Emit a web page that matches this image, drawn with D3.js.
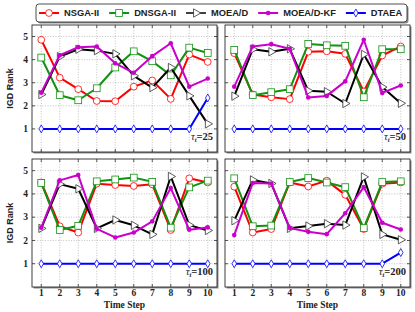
<!DOCTYPE html>
<html>
<head>
<meta charset="utf-8">
<script src="https://cdn.jsdelivr.net/npm/d3@7"></script>
<style>
    body { margin: 0; background: #fff; }
    svg { display: block; }
    .grid line { stroke: #999; stroke-width: 0.6; stroke-dasharray: 1,1.6; }
    .tick-label { font-family: "Liberation Serif", serif; font-weight: bold; font-size: 9.5px; fill: #222; }
    .title { font-family: "Liberation Sans", Arial, sans-serif; font-weight: bold; font-size: 9px; fill: #222; }
    .legend text { font-family: "Liberation Sans", Arial, sans-serif; font-weight: bold; font-size: 9.3px; fill: #222; }
</style>
</head>
<body>
<svg id="chart" width="415" height="312"></svg>
<script>
// Data
const steps = [1, 2, 3, 4, 5, 6, 7, 8, 9, 10];
const yTicks = [1, 2, 3, 4, 5];
const taus = [25, 50, 100, 200];

const nsga2 = [
    [4.86, 3.22, 2.72, 2.21, 2.20, 2.83, 3.10, 2.30, 4.22, 3.90],
    [4.28, 2.49, 2.37, 2.29, 4.34, 4.36, 4.25, 2.62, 4.18, 4.57],
    [4.49, 2.61, 2.34, 4.44, 4.38, 4.34, 4.41, 2.45, 4.67, 4.49],
    [4.31, 2.34, 2.49, 4.49, 4.32, 4.57, 3.96, 2.49, 4.44, 4.49]
];
const dnsga2 = [
    [4.09, 2.46, 2.24, 2.76, 3.66, 4.36, 3.93, 3.32, 4.52, 4.29],
    [4.42, 2.46, 2.59, 2.72, 4.68, 4.62, 4.60, 2.37, 4.45, 4.45],
    [4.47, 2.45, 2.63, 4.54, 4.62, 4.70, 4.52, 2.55, 4.28, 4.57],
    [4.67, 2.61, 2.64, 4.51, 4.68, 4.49, 4.29, 2.53, 4.51, 4.54]
];
const moead = [
    [2.49, 4.13, 4.45, 4.39, 4.25, 3.30, 2.79, 3.66, 2.43, 1.22],
    [2.42, 4.45, 4.34, 4.47, 2.65, 2.61, 2.10, 4.23, 2.81, 2.11],
    [2.52, 4.42, 4.22, 2.52, 2.88, 2.65, 2.26, 4.75, 2.66, 2.43],
    [2.85, 4.60, 4.45, 2.52, 2.62, 2.72, 2.66, 4.73, 2.26, 2.03]
];
const moeadkf = [
    [2.57, 4.19, 4.54, 4.57, 3.84, 3.43, 4.15, 4.71, 2.83, 3.18],
    [2.83, 4.57, 4.67, 4.47, 2.36, 2.43, 3.06, 4.86, 2.56, 2.88],
    [2.55, 4.58, 4.81, 2.50, 2.13, 2.34, 2.82, 4.25, 2.46, 2.56],
    [2.23, 4.47, 4.45, 2.53, 2.37, 2.27, 3.17, 4.29, 2.76, 2.47]
];
const dtaea = [
    [1, 1, 1, 1, 1, 1, 1, 1, 1, 2.34],
    [1, 1, 1, 1, 1, 1, 1, 1, 1, 1],
    [1, 1, 1, 1, 1, 1, 1, 1, 1, 1],
    [1, 1, 1, 1, 1, 1, 1, 1, 1, 1.48]
];

const algorithms = [
    { name: 'NSGA-II', values: nsga2, color: '#ff0000', marker: 'circle' },
    { name: 'DNSGA-II', values: dnsga2, color: '#119211', marker: 'square' },
    { name: 'MOEA/D', values: moead, color: '#000000', marker: 'triangle' },
    { name: 'MOEA/D-KF', values: moeadkf, color: '#cc00cc', marker: 'dot' },
    { name: 'DTAEA', values: dtaea, color: '#0000ff', marker: 'diamond' }
];

// Layout
const svg = d3.select('#chart');
const cols = [[32, 217], [225, 410]],
      rows = [[25, 152], [159, 287]];

function drawMarker(g, type, color, x, y) {
    if (type === 'circle') {
        g.append('circle').attr('cx', x).attr('cy', y).attr('r', 3.4)
            .attr('fill', '#fff').attr('stroke', color).attr('stroke-width', 0.8);
    } else if (type === 'square') {
        g.append('rect').attr('x', x - 3.4).attr('y', y - 3.4).attr('width', 6.8).attr('height', 6.8)
            .attr('fill', '#fff').attr('stroke', color).attr('stroke-width', 0.8);
    } else if (type === 'triangle') {
        g.append('path').attr('d', d3.symbol(d3.symbolTriangle, 30)())
            .attr('transform', `translate(${x},${y}) rotate(90)`)
            .attr('fill', '#fff').attr('stroke', '#333').attr('stroke-width', 0.8);
    } else if (type === 'dot') {
        g.append('circle').attr('cx', x).attr('cy', y).attr('r', 2.3).attr('fill', color);
    } else {
        g.append('path').attr('d', d3.symbol(d3.symbolDiamond, 18)())
            .attr('transform', `translate(${x},${y})`)
            .attr('fill', '#fff').attr('stroke', color).attr('stroke-width', 0.8);
    }
}

taus.forEach((tau, i) => {
    let col = i % 2, row = Math.floor(i / 2),
        [x0, x1] = cols[col], [y0, y1] = rows[row];

    let xScale = d3.scaleLinear().domain([0.5, 10.5]).range([x0, x1]),
        yScale = d3.scaleLinear().domain([0, 5.5]).range([y1, y0]);

    let g = svg.append('g');

    // Frame with shadow
    g.append('rect').attr('x', x0 + 1.5).attr('y', y0 + 1.5)
        .attr('width', x1 - x0).attr('height', y1 - y0).attr('fill', '#8c8c8c');
    g.append('rect').attr('x', x0).attr('y', y0)
        .attr('width', x1 - x0).attr('height', y1 - y0)
        .attr('fill', '#fff').attr('stroke', '#111').attr('stroke-width', 0.8);

    // Grid
    let grid = g.append('g').attr('class', 'grid');
    grid.selectAll('.gx').data(steps).enter().append('line')
        .attr('x1', (d) => xScale(d)).attr('x2', (d) => xScale(d))
        .attr('y1', y0).attr('y2', y1);
    grid.selectAll('.gy').data(yTicks).enter().append('line')
        .attr('x1', x0).attr('x2', x1)
        .attr('y1', (d) => yScale(d)).attr('y2', (d) => yScale(d));

    // Inner ticks
    let ticks = g.append('g').attr('stroke', '#111').attr('stroke-width', 0.7);
    steps.forEach((s) => {
        ticks.append('line').attr('x1', xScale(s)).attr('x2', xScale(s)).attr('y1', y0).attr('y2', y0 + 3);
        ticks.append('line').attr('x1', xScale(s)).attr('x2', xScale(s)).attr('y1', y1).attr('y2', y1 - 3);
    });
    yTicks.forEach((v) => {
        ticks.append('line').attr('x1', x0).attr('x2', x0 + 3).attr('y1', yScale(v)).attr('y2', yScale(v));
        ticks.append('line').attr('x1', x1).attr('x2', x1 - 3).attr('y1', yScale(v)).attr('y2', yScale(v));
    });

    // Tick labels
    if (col === 0) {
        g.selectAll('.ylab').data(yTicks).enter().append('text')
            .attr('class', 'tick-label')
            .attr('x', x0 - 4).attr('y', (d) => yScale(d) + 3.3)
            .attr('text-anchor', 'end').text((d) => d);
        g.append('text').attr('class', 'title')
            .attr('transform', `translate(13,${(y0 + y1) / 2}) rotate(-90)`)
            .attr('text-anchor', 'middle').text('IGD Rank');
    }
    if (row === 1) {
        g.selectAll('.xlab').data(steps).enter().append('text')
            .attr('class', 'tick-label')
            .attr('x', (d) => xScale(d)).attr('y', y1 + 9)
            .attr('text-anchor', 'middle').text((d) => d);
        g.append('text').attr('class', 'tick-label')
            .attr('x', (x0 + x1) / 2).attr('y', y1 + 20.5)
            .attr('text-anchor', 'middle').text('Time Step');
    }

    // Series
    let line = d3.line().x((d, k) => xScale(steps[k])).y((d) => yScale(d));
    algorithms.forEach((a) => {
        let values = a.values[i];
        g.append('path').datum(values).attr('d', line)
            .attr('fill', 'none').attr('stroke', a.color)
            .attr('stroke-width', 2).attr('stroke-linejoin', 'round');
        values.forEach((v, k) => drawMarker(g, a.marker, a.color, xScale(steps[k]), yScale(v)));
    });

    // Annotation
    let ann = g.append('text').attr('class', 'tick-label')
        .attr('x', x1 - 4).attr('y', y1 - 12).attr('text-anchor', 'end')
        .style('font-size', '10.5px');
    ann.append('tspan').style('font-style', 'italic').style('font-weight', 'normal').text('τ');
    ann.append('tspan').attr('dy', 2).style('font-size', '6.5px').style('font-style', 'italic').text('t');
    ann.append('tspan').attr('dy', -2).text('=' + tau);
});

// Legend
let legend = svg.append('g').attr('class', 'legend');
legend.append('rect').attr('x', 37.5).attr('y', 5.5).attr('width', 371).attr('height', 18)
    .attr('rx', 3).attr('fill', '#8c8c8c');
legend.append('rect').attr('x', 36).attr('y', 4).attr('width', 371).attr('height', 18)
    .attr('rx', 3).attr('fill', '#fff').attr('stroke', '#222').attr('stroke-width', 0.8);

let lx = 39;
algorithms.forEach((a) => {
    let item = legend.append('g');
    item.append('line').attr('x1', lx).attr('x2', lx + 20).attr('y1', 13).attr('y2', 13)
        .attr('stroke', a.color).attr('stroke-width', a.marker === 'triangle' ? 1.5 : 2);
    drawMarker(item, a.marker, a.color, lx + 10, 13);
    let t = item.append('text').attr('x', lx + 25).attr('y', 16.3).text(a.name);
    lx += 25 + t.node().getComputedTextLength() + 10;
});
</script>
</body>
</html>
